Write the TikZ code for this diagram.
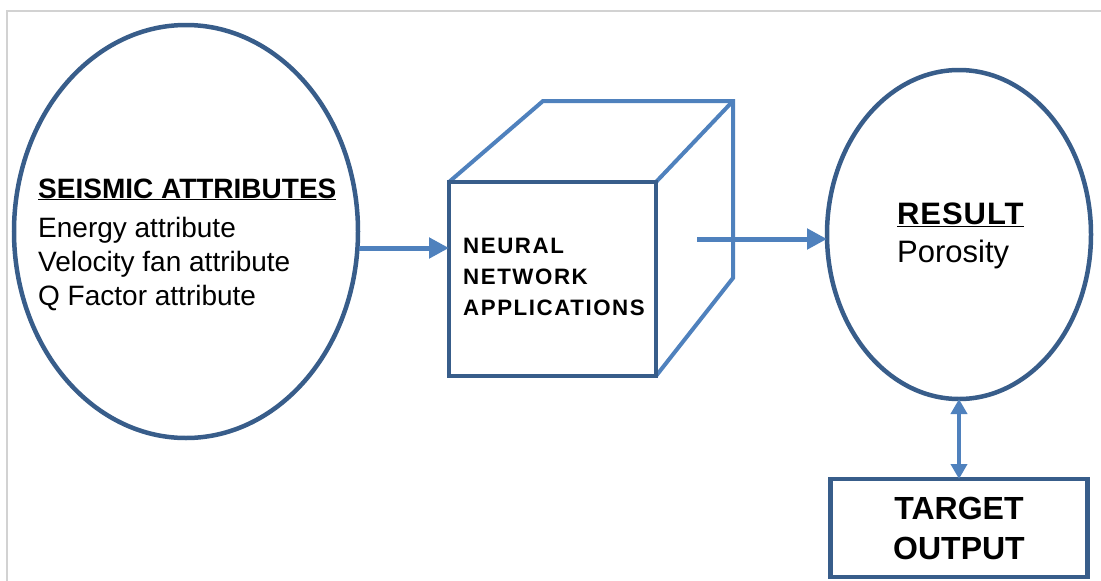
\documentclass[tikz,border=0pt]{standalone}
\usepackage{fontspec}
\setmainfont{Liberation Sans}
\usepackage{xcolor}
\usepackage{tikz}
\usetikzlibrary{shapes.geometric,arrows.meta}
\definecolor{darkblue}{RGB}{56,93,138}
\definecolor{lightblue}{RGB}{79,129,189}

\begin{document}
\begin{tikzpicture}[x=1pt, y=-1pt,
    outline/.style={draw=darkblue, line width=4.5pt, outer sep=0pt, inner sep=0pt},
    backedge/.style={draw=lightblue, line width=4pt, line cap=round},
    arr/.style={draw=lightblue, line width=5pt, -{Triangle[length=20pt,width=20pt]}},
    dblarr/.style={draw=lightblue, line width=4pt, {Triangle[length=15pt,width=16pt]}-{Triangle[length=15pt,width=16pt]}}]
  \useasboundingbox (0,0) rectangle (1101,581);
  \draw[gray!35, line width=1.5pt] (7,581) -- (7,11) -- (1101,11);
  % inputs
  \node[outline, ellipse, minimum width=344pt, minimum height=413pt] (seis) at (186,231.5) {};
  \node[anchor=base west, align=left, inner sep=0pt, font=\fontsize{28}{34}\selectfont] (seistxt) at (38,305)
    {\underline{\textbf{SEISMIC ATTRIBUTES}}\\[5pt]Energy attribute\\Velocity fan attribute\\Q Factor attribute};
  % network cube
  \draw[backedge] (449,182) -- (543,101) -- (733,101) -- (733,278) -- (656,376);
  \draw[backedge] (656,182) -- (733,101);
  \node[outline, fill=white, minimum width=207pt, minimum height=194pt] (nnbox) at (552.5,279) {};
  \node[anchor=base west, align=left, inner sep=0pt, font=\fontsize{22.3}{31}\selectfont\bfseries\addfontfeature{LetterSpace=7}] (nntxt) at (463,315)
    {NEURAL\\NETWORK\\APPLICATIONS};
  % result
  \node[outline, ellipse, minimum width=264pt, minimum height=329pt] (res) at (959,234.5) {};
  \node[anchor=base west, align=left, inner sep=0pt, font=\fontsize{31}{38}\selectfont] (restxt) at (897,262)
    {\underline{\textbf{\addfontfeature{LetterSpace=3}RESULT}}\\Porosity};
  \node[outline, minimum width=257pt, minimum height=98pt, align=center,
        font=\fontsize{32}{40}\selectfont\bfseries] (target) at (959,528) {TARGET\\OUTPUT};
  % connectors
  \coordinate (seisout) at (359,248);
  \coordinate (nnout) at (697,239);
  \draw[arr] (seisout) -- (seisout -| nnbox.west);
  \draw[arr] (nnout) -- (nnout -| res.west);
  \draw[dblarr] (res.south) -- (target.north);
\end{tikzpicture}
\end{document}
